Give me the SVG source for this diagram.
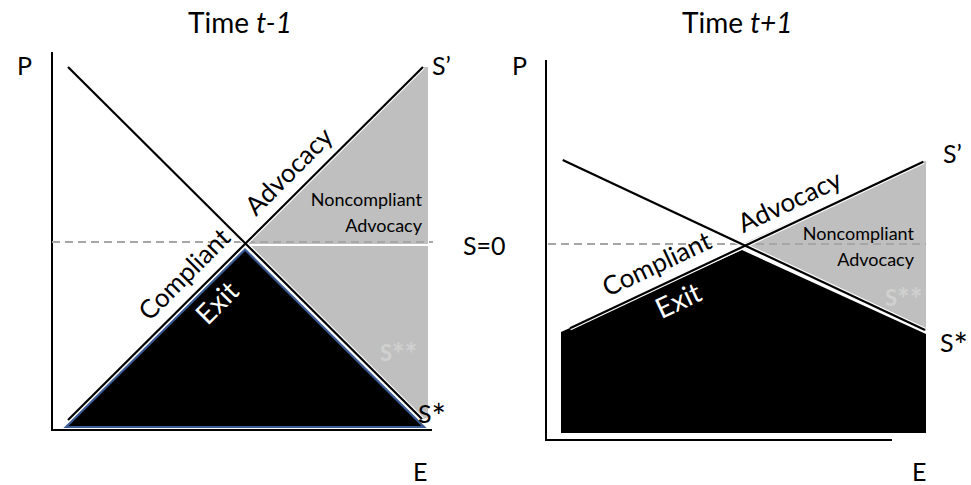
<svg xmlns="http://www.w3.org/2000/svg" width="971" height="485" viewBox="0 0 971 485">
<style>
text{font-family:Lato,"Liberation Sans",sans-serif;fill:#000}
.t{font-size:28px}
.ax{font-size:25px}
.ast{font-size:34px}
.rot{font-size:26px}
.nc{font-size:18px}
.ex{font-size:28px;fill:#fff}
.ss{font-size:22px;font-weight:bold;fill:#d0d0d0}
.axis{stroke:#000;stroke-width:2;fill:none}
.ln{stroke:#000;stroke-width:2.2;fill:none}
.wl{stroke:#fff;stroke-width:4.5;fill:none}
.dash{stroke:#a6a6a6;stroke-width:2;stroke-dasharray:8 5;fill:none}
.gray{fill:#bfbfbf}
</style>
<rect width="971" height="485" fill="#fff"/>
<g id="panel-left">
  <g id="left-regions">
    <polygon class="gray" points="248,243.5 423,67 428,67 428,418 422,419"/>
    <polygon points="66,427 245,249.5 424,427" fill="#000" stroke="#3b5b96" stroke-width="2.2"/>
    <line x1="250" y1="245" x2="428" y2="245" stroke="#fff" stroke-width="2"/>
  </g>
  <g id="left-axes">
    <line class="axis" x1="52" y1="52" x2="52" y2="431"/>
    <line class="axis" x1="51" y1="430" x2="432" y2="430"/>
    <line class="dash" x1="52" y1="242" x2="433" y2="242"/>
  </g>
  <g id="left-connectors">
    <line class="wl" x1="68" y1="420" x2="423" y2="67"/>
    <line class="wl" x1="68" y1="67" x2="422" y2="419"/>
    <line class="ln" x1="68" y1="420" x2="423" y2="67"/>
    <line class="ln" x1="68" y1="67" x2="422" y2="419"/>
  </g>
  <g id="left-labels">
    <text class="t" x="188" y="33">Time <tspan font-style="italic">t-1</tspan></text>
    <text class="ax" x="17" y="75">P</text>
    <text class="ax" x="432" y="75">S’</text>
    <text class="ax" x="463" y="255">S=0</text>
    <text class="ax" x="418" y="423">S<tspan class="ast" dy="6">*</tspan></text>
    <text class="ax" x="413" y="481">E</text>
    <text class="nc" x="422" y="206" text-anchor="end">Noncompliant</text>
    <text class="nc" x="422" y="232" text-anchor="end">Advocacy</text>
    <text class="rot" transform="translate(303,185.5) rotate(-45)" x="0" y="-11" text-anchor="middle">Advocacy</text>
    <text class="rot" transform="translate(199.3,289.2) rotate(-45)" x="0" y="-12" text-anchor="middle">Compliant</text>
    <text class="ex" transform="translate(201.5,287) rotate(-45)" x="0" y="32" text-anchor="middle">Exit</text>
    <text class="ss" x="380" y="361">S<tspan font-size="30" dy="4">**</tspan></text>
  </g>
</g>
<g id="panel-right">
  <g id="right-regions">
    <polygon class="gray" points="740,245 923,161 926,161 926,331"/>
    <polygon points="561,332 742,250 926,334 926,433 561,433" fill="#000"/>
  </g>
  <g id="right-axes">
    <line class="axis" x1="546" y1="60" x2="546" y2="441"/>
    <line class="axis" x1="545" y1="440" x2="892" y2="440"/>
    <line class="dash" x1="548" y1="244" x2="926" y2="244"/>
  </g>
  <g id="right-connectors">
    <line class="wl" x1="570" y1="328.3" x2="923.3" y2="161.7"/>
    <line class="wl" x1="562.7" y1="160" x2="925" y2="330"/>
    <line class="ln" x1="570" y1="328.3" x2="923.3" y2="161.7"/>
    <line class="ln" x1="562.7" y1="160" x2="925" y2="330"/>
  </g>
  <g id="right-labels">
    <text class="t" x="682" y="33">Time <tspan font-style="italic">t+1</tspan></text>
    <text class="ax" x="512" y="75">P</text>
    <text class="ax" x="943" y="163">S’</text>
    <text class="ax" x="940" y="352">S<tspan class="ast" dy="6">*</tspan></text>
    <text class="ax" x="912" y="481">E</text>
    <text class="nc" x="914" y="240" text-anchor="end">Noncompliant</text>
    <text class="nc" x="914" y="266" text-anchor="end">Advocacy</text>
    <text class="rot" transform="translate(798.6,220.5) rotate(-25.2)" x="0" y="-12" text-anchor="middle">Advocacy</text>
    <text class="rot" transform="translate(665.7,283) rotate(-25.2)" x="0" y="-12" text-anchor="middle">Compliant</text>
    <text class="ex" transform="translate(669.3,281.3) rotate(-25.2)" x="0" y="31" text-anchor="middle">Exit</text>
    <text class="ss" x="885" y="306">S<tspan font-size="30" dy="4">**</tspan></text>
  </g>
</g>
</svg>
